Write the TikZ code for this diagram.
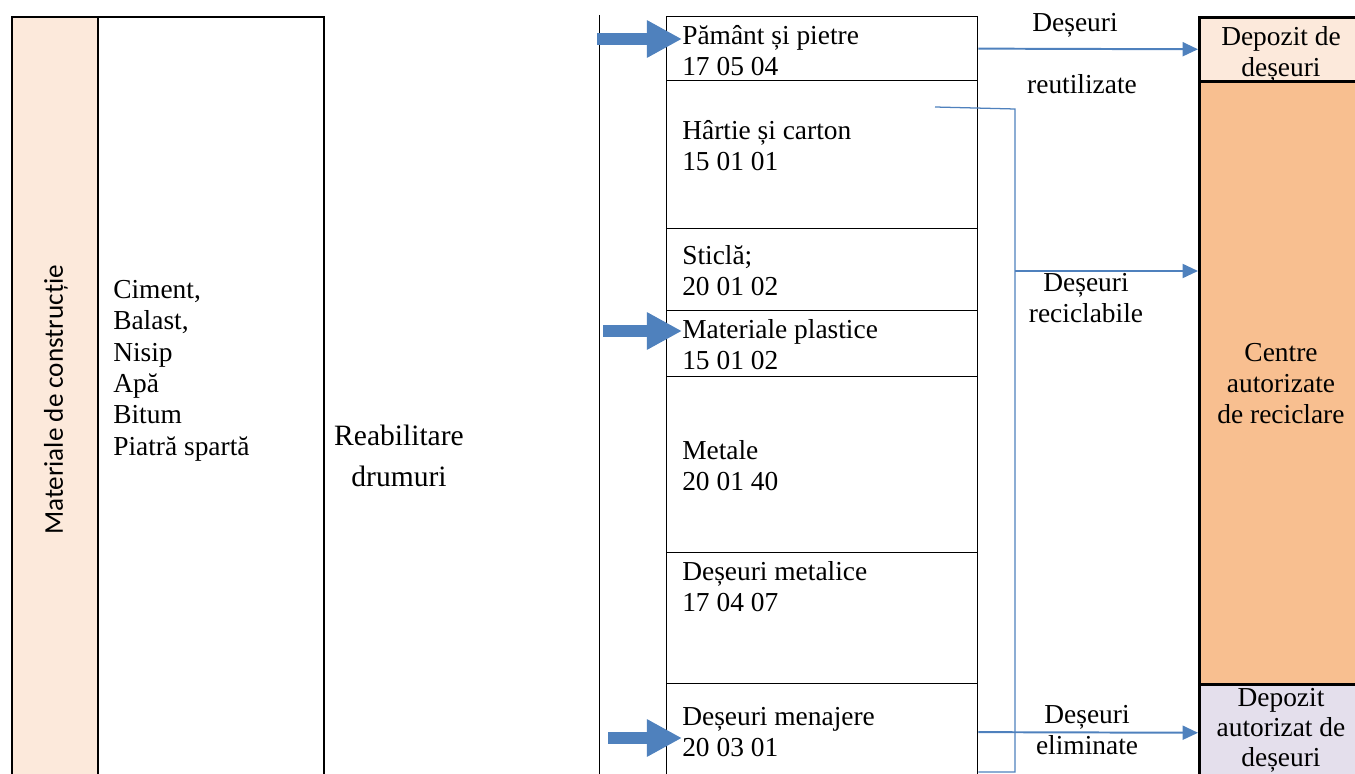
\documentclass[tikz,border=0pt]{standalone}
\usepackage{fontspec}
\setmainfont{Liberation Serif}
\newfontfamily\calfont{Carlito}
\usetikzlibrary{arrows.meta}
\definecolor{cPeach}   {HTML}{FCE9DB}
\definecolor{cOrange}  {HTML}{F8BF90}
\definecolor{cLavender}{HTML}{E4DFEC}
\definecolor{cFlow}    {HTML}{4F81BD}

\begin{document}
\begin{tikzpicture}[x=0.25mm, y=-0.25mm,
    txt/.style={inner sep=0pt, anchor=north west, align=left,
      font=\fontsize{19.5}{21.9}\selectfont, execute at begin node=\strut},
    ctxt/.style={txt, anchor=north, align=center},
    lbl/.style={inner sep=0pt, anchor=base, font=\fontsize{19.5}{21.9}\selectfont},
    cell/.style={draw, line width=0.9pt, minimum width=77.75mm, anchor=north west, inner sep=0pt},
    sink/.style={draw, line width=1.8pt, minimum width=41.5mm, anchor=north west, inner sep=0pt},
    fat/.style={cFlow, line width=8.5pt, -{Triangle[length=25pt, width=25pt]}},
    flow/.style={cFlow, line width=1.4pt, -{Triangle[length=11pt, width=10pt]}},
  ]
  \useasboundingbox (0,0) rectangle (1355,774);
  \clip (0,0) rectangle (1355,774);

  % materials (left)
  \node[draw, line width=1.4pt, fill=cPeach, minimum width=21.5mm, minimum height=191mm,
        anchor=north west, inner sep=0pt] (mat) at (11,16) {};
  \node[draw, line width=1.4pt, minimum width=56.5mm, minimum height=191mm,
        anchor=north west, inner sep=0pt] (use) at (97,16) {};
  \node[rotate=90, inner sep=0pt, font=\calfont\fontsize{19.3}{23}\selectfont] (lCol) at (56,400) {Materiale de construcție};
  \node[txt, font=\fontsize{19.5}{22.3}\selectfont] (lLst) at (113,280) {Ciment,\\Balast,\\Nisip\\Apă\\Bitum\\Piatră spartă};
  \node[ctxt, font=\fontsize{21}{29}\selectfont] (lRoad) at (399,425) {Reabilitare\\drumuri};
  \draw[line width=0.7pt] (599,15) -- (599,780);

  % waste streams
  \foreach \n/\t/\b in {pam/16/80, har/80/228, sti/228/310, pla/310/376,
                        met/376/552, dme/552/683, men/683/780}
    \node[cell, minimum height={(\b-\t)*0.25mm}] (\n) at (666,\t) {};
  \node[txt] (lPam) at (682,25)  {Pământ și pietre\\17 05 04};
  \node[txt] (lHar) at (682,120) {Hârtie și carton\\15 01 01};
  \node[txt] (lSti) at (682,245) {Sticlă;\\20 01 02};
  \node[txt] (lPla) at (682,319) {Materiale plastice\\15 01 02};
  \node[txt] (lMet) at (682,440) {Metale\\20 01 40};
  \node[txt] (lDme) at (682,561) {Deșeuri metalice\\17 04 07};
  \node[txt] (lMen) at (682,707) {Deșeuri menajere\\20 03 01};

  % destinations (right)
  \node[sink, fill=cOrange, minimum height=150.75mm] (cen) at (1198,80) {};
  \node[sink, fill=cPeach, minimum height=16mm] (dep) at (1198,16) {};
  \node[sink, fill=cLavender, minimum height=24.25mm] (dau) at (1198,683) {};
  \node[ctxt] (lDep) at (1281,26)  {Depozit de\\deșeuri};
  \node[ctxt] (lCen) at (1281,343) {Centre\\autorizate\\de reciclare};
  \node[ctxt, font=\fontsize{19.5}{21.2}\selectfont] (lDau) at (1281,688) {Depozit\\autorizat de\\deșeuri};

  % inputs
  \foreach \c/\l/\x/\y in {inPam/lPam/597/39, inPla/lPla/603/331, inMen/lMen/608/738} {
    \coordinate (\c) at (\x,\y);
    \draw[fat] (\c) -- (\c -| \l.west);
  }

  % outputs
  \draw[flow] (pam.east) -- (dep.west);
  \node[lbl] (lReuA) at (1075,32) {Deșeuri};
  \node[lbl] (lReuB) at (1082,94) {reutilizate};
  \coordinate (brA) at (935,107);
  \coordinate (brB) at (1015,772);
  \coordinate (brJ) at (1015,271);
  \draw[cFlow, line width=0.9pt] (brA) -- (1015,109) -- (brB) -- (brB -| men.east);
  \draw[flow] (brJ) -- (brJ -| cen.west);
  \node[ctxt] (lRec) at (1086,273) {Deșeuri\\reciclabile};
  \draw[flow] (men.east) -- (dau.west);
  \node[ctxt] (lEli) at (1087,705) {Deșeuri\\eliminate};
\end{tikzpicture}
\end{document}
